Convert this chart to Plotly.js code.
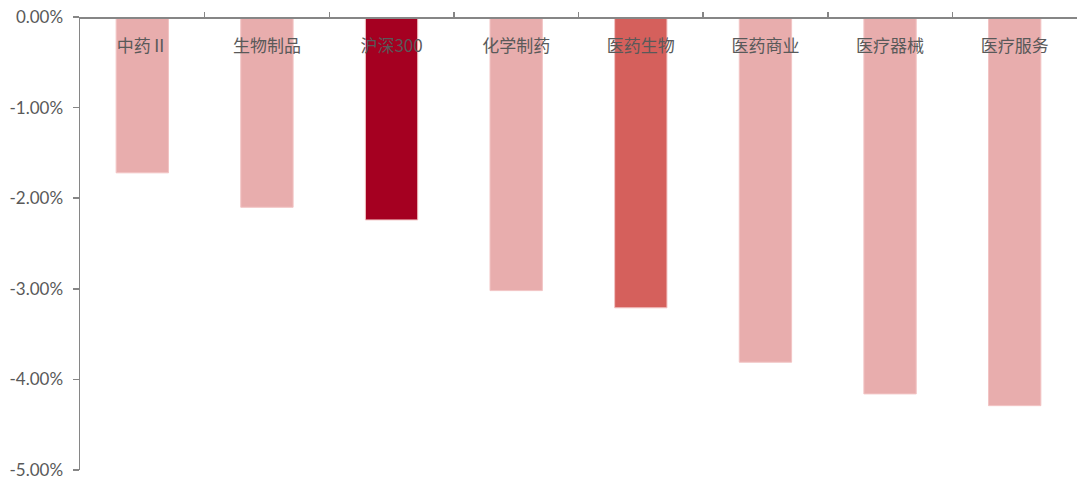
<!DOCTYPE html>
<html>
<head>
<meta charset="utf-8">
<script src="https://cdn.plot.ly/plotly-3.0.1.min.js"></script>
<style>html,body{margin:0;padding:0;background:#fff;}#chart{width:1086px;height:480px;}</style>
</head>
<body>
<div id="chart"></div>
<script>
const categories = ["中药Ⅱ", "生物制品", "沪深300", "化学制药", "医药生物", "医药商业", "医疗器械", "医疗服务"];
const values = [-1.72, -2.10, -2.24, -3.02, -3.21, -3.81, -4.16, -4.29];
const barColors = ["#E8ADAD", "#E8ADAD", "#A50021", "#E8ADAD", "#D5605C", "#E8ADAD", "#E8ADAD", "#E8ADAD"];
const yTickVals = [0, -1, -2, -3, -4, -5];
const yTickText = ["0.00%", "-1.00%", "-2.00%", "-3.00%", "-4.00%", "-5.00%"];

const trace = {
  type: "bar",
  x: categories,
  y: values,
  width: 0.42,
  marker: {color: barColors, line: {color: "#F2C4C4", width: 1}},
  hoverinfo: "x+y"
};

const layout = {
  width: 1086, height: 480,
  margin: {l: 80, r: 9, t: 17, b: 10},
  paper_bgcolor: "#fff", plot_bgcolor: "#fff",
  showlegend: false,
  xaxis: {
    type: "category",
    side: "bottom",
    anchor: "free",
    position: 1,
    ticklabelstandoff: 13,
    ticks: "inside",
    tickson: "boundaries",
    ticklen: 5,
    tickcolor: "#868686",
    tickwidth: 1.5,
    showline: true,
    linecolor: "#868686",
    linewidth: 1.5,
    showgrid: false,
    zeroline: false,
    tickfont: {family: "Noto Sans CJK SC", size: 17, color: "#595959"},
    range: [-0.5, 7.5]
  },
  yaxis: {
    range: [-5, 0],
    tickmode: "array",
    tickvals: yTickVals,
    ticktext: yTickText,
    ticks: "outside",
    ticklen: 6,
    ticklabelstandoff: 6,
    tickcolor: "#868686",
    tickwidth: 1.5,
    showline: true,
    linecolor: "#868686",
    linewidth: 1.5,
    showgrid: false,
    zeroline: false,
    tickfont: {family: "Lato, Carlito, sans-serif", size: 17, color: "#595959"}
  }
};

Plotly.newPlot("chart", [trace], layout, {displayModeBar: false, staticPlot: true});
</script>
</body>
</html>
